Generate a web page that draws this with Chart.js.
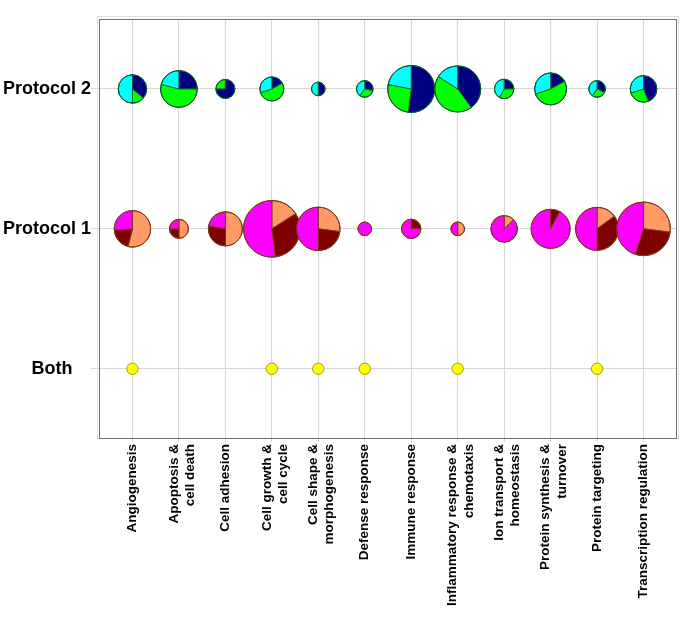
<!DOCTYPE html>
<html>
<head>
<meta charset="utf-8">
<script src="https://cdn.jsdelivr.net/npm/chart.js@4/dist/chart.umd.min.js"></script>
<style>
  body { margin: 0; background: #fff; }
</style>
</head>
<body>
<canvas id="pieChart" width="685" height="619"></canvas>
<script>
const categories = [
    'Angiogenesis',
    ['Apoptosis &', 'cell death'],
    'Cell adhesion',
    ['Cell growth &', 'cell cycle'],
    ['Cell shape &', 'morphogenesis'],
    'Defense response',
    'Immune response',
    ['Inflammatory response &', 'chemotaxis'],
    ['Ion transport &', 'homeostasis'],
    ['Protein synthesis &', 'turnover'],
    'Protein targeting',
    'Transcription regulation'
];
const rowLabels = ['Both', 'Protocol 1', 'Protocol 2'];

// Protocol 2: slice shares (%) clockwise from 12 o'clock, and bubble size
const p2Navy  = [36, 25, 75, 17, 50, 28, 52, 40, 25, 17, 32, 44];
const p2Green = [14, 54, 25, 53,  0, 32, 26, 44, 33, 53, 28, 26];
const p2Cyan  = [50, 21,  0, 30, 50, 40, 22, 16, 42, 30, 40, 30];
const p2Size  = [14.2, 18.3, 9.5, 12, 6.8, 8.3, 23.5, 23, 9.7, 16, 8.3, 13.3];

// Protocol 1
const p1Salmon  = [54, 50, 50, 16, 27,   0,  0, 50, 12.5,  0, 15, 27];
const p1Maroon  = [20, 25, 28, 32, 23,   0, 25,  0,  0,    8, 35, 28];
const p1Magenta = [26, 25, 22, 52, 50, 100, 75, 50, 87.5, 92, 50, 45];
const p1Size    = [18.2, 9.5, 17, 28.3, 21.7, 6.8, 9.7, 6.8, 13.3, 19.5, 21.5, 26.8];

// Both
const bothCats = ['Angiogenesis', 'Cell growth', 'Cell shape', 'Defense response', 'Inflammatory response', 'Protein targeting'];
const bothSize = 5.7;

const catName = c => Array.isArray(c) ? c.join(' ') : c;
const catIndex = name => categories.findIndex(c => catName(c).startsWith(name));

// frame round the plot area
const framePlugin = {
    id: 'frame',
    beforeDatasetsDraw(chart) {
        const { ctx, chartArea: a } = chart;
        ctx.save();
        ctx.strokeStyle = '#e2e2e2';
        ctx.lineWidth = 1;
        ctx.strokeRect(a.left - 1.5, a.top - 2.5, a.right - a.left + 3, a.bottom - a.top + 3);
        ctx.strokeStyle = '#707070';
        ctx.strokeRect(a.left + 0.5, a.top + 0.5, a.right - a.left - 1, a.bottom - a.top);
        ctx.restore();
    }
};

// nudge tick labels: two-line x labels centred on their tick, "Both" a bit right
const labelNudge = {
    id: 'labelNudge',
    beforeDraw(chart) {
        chart.scales.x.getLabelItems(chart.chartArea).forEach(it => {
            if (Array.isArray(it.label) && !it.nudged) {
                it.options.translation[0] -= 5;
                it.nudged = true;
            }
        });
        chart.scales.y.getLabelItems(chart.chartArea).forEach(it => {
            if (it.label === 'Both' && !it.nudged) {
                it.options.translation[0] += 5;
                it.nudged = true;
            }
        });
    }
};

// draws each bubble of a dataset as a pie
const piePlugin = {
    id: 'pies',
    afterDatasetsDraw(chart) {
        const ctx = chart.ctx;
        chart.data.datasets.forEach((ds, i) => {
            if (!ds.slices) return;
            const meta = chart.getDatasetMeta(i);
            meta.data.forEach((pt, j) => {
                const r = pt.options.radius;
                const total = ds.slices.reduce((a, s) => a + s.values[j], 0);
                let start = -Math.PI / 2;
                ctx.save();
                ctx.lineWidth = 1;
                ctx.strokeStyle = ds.edge;
                ds.slices.forEach(s => {
                    const v = s.values[j];
                    if (!v) return;
                    const end = start + v / total * Math.PI * 2;
                    ctx.beginPath();
                    if (v < total) ctx.moveTo(pt.x, pt.y);
                    ctx.arc(pt.x, pt.y, r, start, end);
                    ctx.closePath();
                    ctx.fillStyle = s.color;
                    ctx.fill();
                    ctx.stroke();
                    start = end;
                });
                ctx.beginPath();
                ctx.arc(pt.x, pt.y, r, 0, Math.PI * 2);
                ctx.stroke();
                ctx.restore();
            });
        });
    }
};

const font = '"Liberation Sans", Arial, sans-serif';
const gridColor = '#d6d6d6';

new Chart(document.getElementById('pieChart'), {
    type: 'bubble',
    data: {
        datasets: [
            {
                label: 'Protocol 2',
                data: categories.map((c, i) => ({ x: i, y: 2, r: p2Size[i] })),
                backgroundColor: 'rgba(0,0,0,0)',
                borderWidth: 0,
                edge: '#0a5a2a',
                slices: [
                    { color: '#000080', values: p2Navy },
                    { color: '#00ff00', values: p2Green },
                    { color: '#00ffff', values: p2Cyan }
                ]
            },
            {
                label: 'Protocol 1',
                data: categories.map((c, i) => ({ x: i, y: 1, r: p1Size[i] })),
                backgroundColor: 'rgba(0,0,0,0)',
                borderWidth: 0,
                edge: '#7a3a1a',
                slices: [
                    { color: '#ff9966', values: p1Salmon },
                    { color: '#800000', values: p1Maroon },
                    { color: '#ff00ff', values: p1Magenta }
                ]
            },
            {
                label: 'Both',
                data: bothCats.map(c => ({ x: catIndex(c), y: 0, r: bothSize })),
                backgroundColor: '#ffff00',
                borderColor: '#a0a000',
                borderWidth: 1
            }
        ]
    },
    plugins: [framePlugin, labelNudge, piePlugin],
    options: {
        responsive: false,
        animation: false,
        events: [],
        layout: { autoPadding: false, padding: { top: 19, right: 8, left: 0, bottom: 0 } },
        plugins: {
            legend: { display: false },
            tooltip: { enabled: false }
        },
        scales: {
            x: {
                type: 'linear',
                min: -0.72,
                max: 11.72,
                afterBuildTicks: s => { s.ticks = categories.map((c, i) => ({ value: i })); },
                afterFit: s => { s.height = 181; },
                ticks: {
                    autoSkip: false,
                    minRotation: 90,
                    maxRotation: 90,
                    padding: 2,
                    color: '#000',
                    font: { family: font, size: 13.5, weight: 'bold' },
                    callback: v => categories[v]
                },
                grid: { color: gridColor, tickLength: 4 },
                border: { color: '#707070' }
            },
            y: {
                type: 'linear',
                min: -0.495,
                max: 2.5,
                afterBuildTicks: s => { s.ticks = rowLabels.map((l, i) => ({ value: i })); },
                afterFit: s => { s.width = 99; },
                ticks: {
                    crossAlign: 'center',
                    padding: 0,
                    color: '#000',
                    font: { family: font, size: 18, weight: 'bold' },
                    callback: v => rowLabels[v]
                },
                grid: { color: gridColor, tickLength: 8 },
                border: { color: '#707070' }
            }
        }
    }
});
</script>
</body>
</html>
